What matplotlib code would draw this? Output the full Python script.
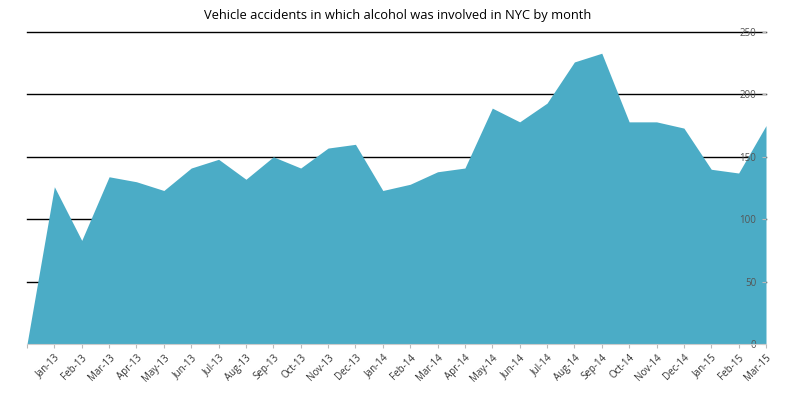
import matplotlib
matplotlib.use('Agg')
import matplotlib.pyplot as plt

plt.rcParams['font.family'] = ['Open Sans', 'DejaVu Sans']

# data
months = ['', 'Jan-13', 'Feb-13', 'Mar-13', 'Apr-13', 'May-13', 'Jun-13', 'Jul-13',
          'Aug-13', 'Sep-13', 'Oct-13', 'Nov-13', 'Dec-13', 'Jan-14', 'Feb-14',
          'Mar-14', 'Apr-14', 'May-14', 'Jun-14', 'Jul-14', 'Aug-14', 'Sep-14',
          'Oct-14', 'Nov-14', 'Dec-14', 'Jan-15', 'Feb-15', 'Mar-15']
accidents = [0, 126, 83, 134, 130, 123, 141, 148, 132, 150, 141, 157, 160, 123, 128,
             138, 141, 189, 178, 193, 226, 233, 178, 178, 173, 140, 137, 175]
y_ticks = [0, 50, 100, 150, 200, 250]

x = list(range(len(months)))

fig = plt.figure(figsize=(7.87, 3.93), dpi=100)
ax = fig.add_axes([27 / 787, 49 / 393, 739 / 787, 312 / 393])

# black gridlines behind the area
for v in y_ticks[1:]:
    ax.axhline(v, color='black', lw=1.0, zorder=1, clip_on=False)

ax.fill_between(x, accidents, 0, color='#4bacc6', lw=0, zorder=2)

ax.set_xlim(0, len(months) - 1)
ax.set_ylim(0, 250)
ax.set_axisbelow(False)

ax.set_xticks(x)
ax.set_xticklabels(months, rotation=45, ha='right', rotation_mode='anchor')
ax.tick_params(axis='x', length=3, color='#bbbbbb', labelsize=7, labelcolor='#333333', pad=3)

ax.yaxis.tick_right()
ax.set_yticks(y_ticks)
ax.tick_params(axis='y', direction='in', length=3, color='#bbbbbb', labelsize=7,
               labelcolor='#555555', pad=-7)
for lab in ax.get_yticklabels():
    lab.set_horizontalalignment('right')

for side in ['left', 'top', 'right']:
    ax.spines[side].set_visible(False)
ax.spines['bottom'].set_color('#cccccc')
ax.spines['bottom'].set_zorder(3)

fig.text(398 / 787, 1 - 15 / 393, 'Vehicle accidents in which alcohol was involved in NYC by month',
         ha='center', va='center', fontsize=9.3)

fig.savefig('out.png', dpi=100)
